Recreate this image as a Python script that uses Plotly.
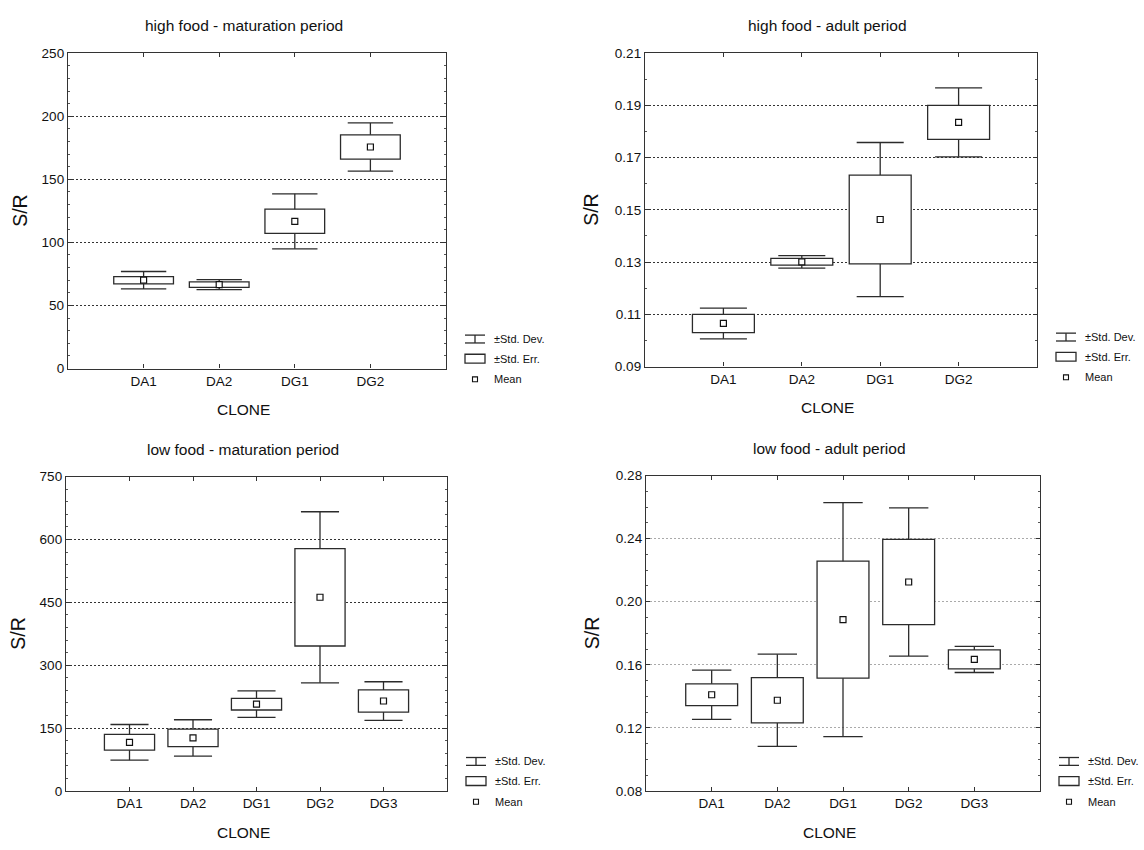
import plotly.graph_objects as go

# ---- data: mean, standard error and standard deviation of S/R per clone ----
clones_4 = ["DA1", "DA2", "DG1", "DG2"]
clones_5 = ["DA1", "DA2", "DG1", "DG2", "DG3"]

hf_mat_mean = [70.0, 66.5, 116.7, 175.6]
hf_mat_se = [2.9, 2.2, 9.6, 9.65]
hf_mat_sd = [6.9, 3.9, 21.8, 19.1]

hf_ad_mean = [0.1065, 0.1301, 0.1463, 0.1835]
hf_ad_se = [0.0035, 0.0013, 0.0170, 0.0065]
hf_ad_sd = [0.0059, 0.0024, 0.0295, 0.0132]

lf_mat_mean = [116.0, 126.5, 207.0, 462.0, 214.5]
lf_mat_se = [18.7, 21.0, 14.0, 116.2, 26.5]
lf_mat_sd = [42.5, 43.3, 31.6, 204.0, 46.0]

lf_ad_mean = [0.1410, 0.1375, 0.1886, 0.2125, 0.1634]
lf_ad_se = [0.0069, 0.0144, 0.0371, 0.0270, 0.0060]
lf_ad_sd = [0.0156, 0.0292, 0.0742, 0.0470, 0.0083]

titles = ["high food - maturation period", "high food - adult period",
          "low food - maturation period", "low food - adult period"]
legend_labels = ["\u00b1Std. Dev.", "\u00b1Std. Err.", "Mean"]

W, H = 1144, 850
FONT = "Liberation Sans, Arial, sans-serif"
INK = "#2b2b2b"
BOX_W = 0.79   # box width in category units
CAP_W = 0.60   # whisker cap width in category units


def px(x):
    return x / W


def py(y):
    return 1 - y / H


# panel frames in pixels: left, right, top, bottom
panels = [
    dict(l=68, r=446, t=47, b=368, cats=clones_4, mean=hf_mat_mean, se=hf_mat_se, sd=hf_mat_sd,
         yr=[0, 250], dtick=50, minor=10, fmt="d", grid="#333333"),
    dict(l=645, r=1037, t=47, b=366, cats=clones_4, mean=hf_ad_mean, se=hf_ad_se, sd=hf_ad_sd,
         yr=[0.09, 0.21], dtick=0.02, minor=0.01, fmt=".2f", grid="#333333"),
    dict(l=66, r=447, t=478, b=798, cats=clones_5, mean=lf_mat_mean, se=lf_mat_se, sd=lf_mat_sd,
         yr=[0, 750], dtick=150, minor=30, fmt="d", grid="#333333"),
    dict(l=646, r=1040, t=477, b=798, cats=clones_5, mean=lf_ad_mean, se=lf_ad_se, sd=lf_ad_sd,
         yr=[0.08, 0.28], dtick=0.04, minor=0.01, fmt=".2f", grid="#aaaaaa"),
]

fig = go.Figure()
annotations = []
shapes = []

for i, p in enumerate(panels):
    n = i + 1
    xa = "x" if n == 1 else f"x{n}"
    ya = "y" if n == 1 else f"y{n}"
    ncat = len(p["cats"])
    pos = list(range(ncat))

    # whiskers: mean +/- SD with caps
    wx, wy = [], []
    for k, (m, se, sd) in enumerate(zip(p["mean"], p["se"], p["sd"])):
        for edge, tip in ((m + se, m + sd), (m - se, m - sd)):
            wx += [k, k, None, k - CAP_W / 2, k + CAP_W / 2, None]
            wy += [edge, tip, None, tip, tip, None]
    fig.add_trace(go.Scatter(
        x=wx, y=wy, mode="lines", line=dict(color=INK, width=1.3),
        xaxis=xa, yaxis=ya, showlegend=False, hoverinfo="skip",
    ))
    # boxes: mean +/- SE
    fig.add_trace(go.Bar(
        x=pos, y=[2 * s for s in p["se"]], base=[m - s for m, s in zip(p["mean"], p["se"])],
        width=BOX_W, marker=dict(color="white", line=dict(color=INK, width=1.3)),
        xaxis=xa, yaxis=ya, showlegend=False, hoverinfo="skip",
    ))
    # mean markers
    fig.add_trace(go.Scatter(
        x=pos, y=p["mean"], mode="markers",
        marker=dict(symbol="square", size=6, color="white", line=dict(color="#111111", width=1.2)),
        xaxis=xa, yaxis=ya, showlegend=False, hoverinfo="skip",
    ))

    xkey = "xaxis" if n == 1 else f"xaxis{n}"
    ykey = "yaxis" if n == 1 else f"yaxis{n}"
    fig.layout[xkey] = dict(
        domain=[px(p["l"]), px(p["r"])], anchor=ya,
        range=[-1, ncat], tickmode="array", tickvals=pos, ticktext=p["cats"],
        showgrid=False, zeroline=False,
        showline=True, linecolor="#333333", linewidth=1.3, mirror="ticks",
        ticks="inside", ticklen=4, tickcolor="#333333",
        tickfont=dict(family=FONT, size=13.5, color="#111111"),
    )
    fig.layout[ykey] = dict(
        domain=[py(p["b"]), py(p["t"])], anchor=xa,
        range=p["yr"], tick0=p["yr"][0], dtick=p["dtick"], tickformat=p["fmt"],
        showgrid=True, gridcolor=p["grid"], gridwidth=1, griddash="2px,2px",
        zeroline=False, showline=True, linecolor="#333333", linewidth=1.3, mirror="ticks",
        ticks="inside", ticklen=4, tickcolor="#333333",
        minor=dict(tick0=p["yr"][0], dtick=p["minor"], ticks="inside", ticklen=2,
                   tickcolor="#555555", showgrid=False),
        tickfont=dict(family=FONT, size=13.5, color="#111111"),
    )

    cx = p["l"] + 0.465 * (p["r"] - p["l"])
    annotations.append(dict(text=titles[i], x=px(cx), y=py(p["t"] - 28), xref="paper", yref="paper",
                            showarrow=False, xanchor="center", yanchor="middle",
                            font=dict(family=FONT, size=15.5, color="#111111")))
    annotations.append(dict(text="CLONE", x=px(cx), y=py(p["b"] + 42), xref="paper", yref="paper",
                            showarrow=False, xanchor="center", yanchor="middle",
                            font=dict(family=FONT, size=15.5, color="#111111")))
    annotations.append(dict(text="S/R", x=px(p["l"] - 48 - (6 if n in (2, 4) else 0)), y=py((p["t"] + p["b"]) / 2),
                            xref="paper", yref="paper", textangle=-90,
                            showarrow=False, xanchor="center", yanchor="middle",
                            font=dict(family=FONT, size=19.5, color="#111111")))

    # key: I-beam (SD), open rectangle (SE), small square (mean)
    il = p["r"] + 19
    ir = il + 20
    rows = [p["b"] - 30, p["b"] - 10, p["b"] + 11]
    line = dict(color=INK, width=1.3)
    ym = rows[0]
    shapes += [
        dict(type="line", xref="paper", yref="paper", x0=px(il), x1=px(ir), y0=py(ym - 4), y1=py(ym - 4), line=line),
        dict(type="line", xref="paper", yref="paper", x0=px(il), x1=px(ir), y0=py(ym + 4), y1=py(ym + 4), line=line),
        dict(type="line", xref="paper", yref="paper", x0=px((il + ir) / 2), x1=px((il + ir) / 2),
             y0=py(ym - 4), y1=py(ym + 4), line=line),
        dict(type="rect", xref="paper", yref="paper", x0=px(il), x1=px(ir), y0=py(rows[1] - 4.5),
             y1=py(rows[1] + 4.5), line=line, fillcolor="white"),
        dict(type="rect", xref="paper", yref="paper", x0=px(il + 7.5), x1=px(il + 12.5), y0=py(rows[2] - 2.5),
             y1=py(rows[2] + 2.5), line=dict(color="#111111", width=1.1), fillcolor="white"),
    ]
    for lab, ry in zip(legend_labels, rows):
        annotations.append(dict(text=lab, x=px(ir + 7), y=py(ry), xref="paper", yref="paper",
                                showarrow=False, xanchor="left", yanchor="middle",
                                font=dict(family=FONT, size=11, color="#111111")))

fig.update_layout(
    width=W, height=H, margin=dict(l=0, r=0, t=0, b=0),
    paper_bgcolor="white", plot_bgcolor="white", barmode="overlay",
    annotations=annotations, shapes=shapes, showlegend=False,
)

fig.write_html("out.html")
